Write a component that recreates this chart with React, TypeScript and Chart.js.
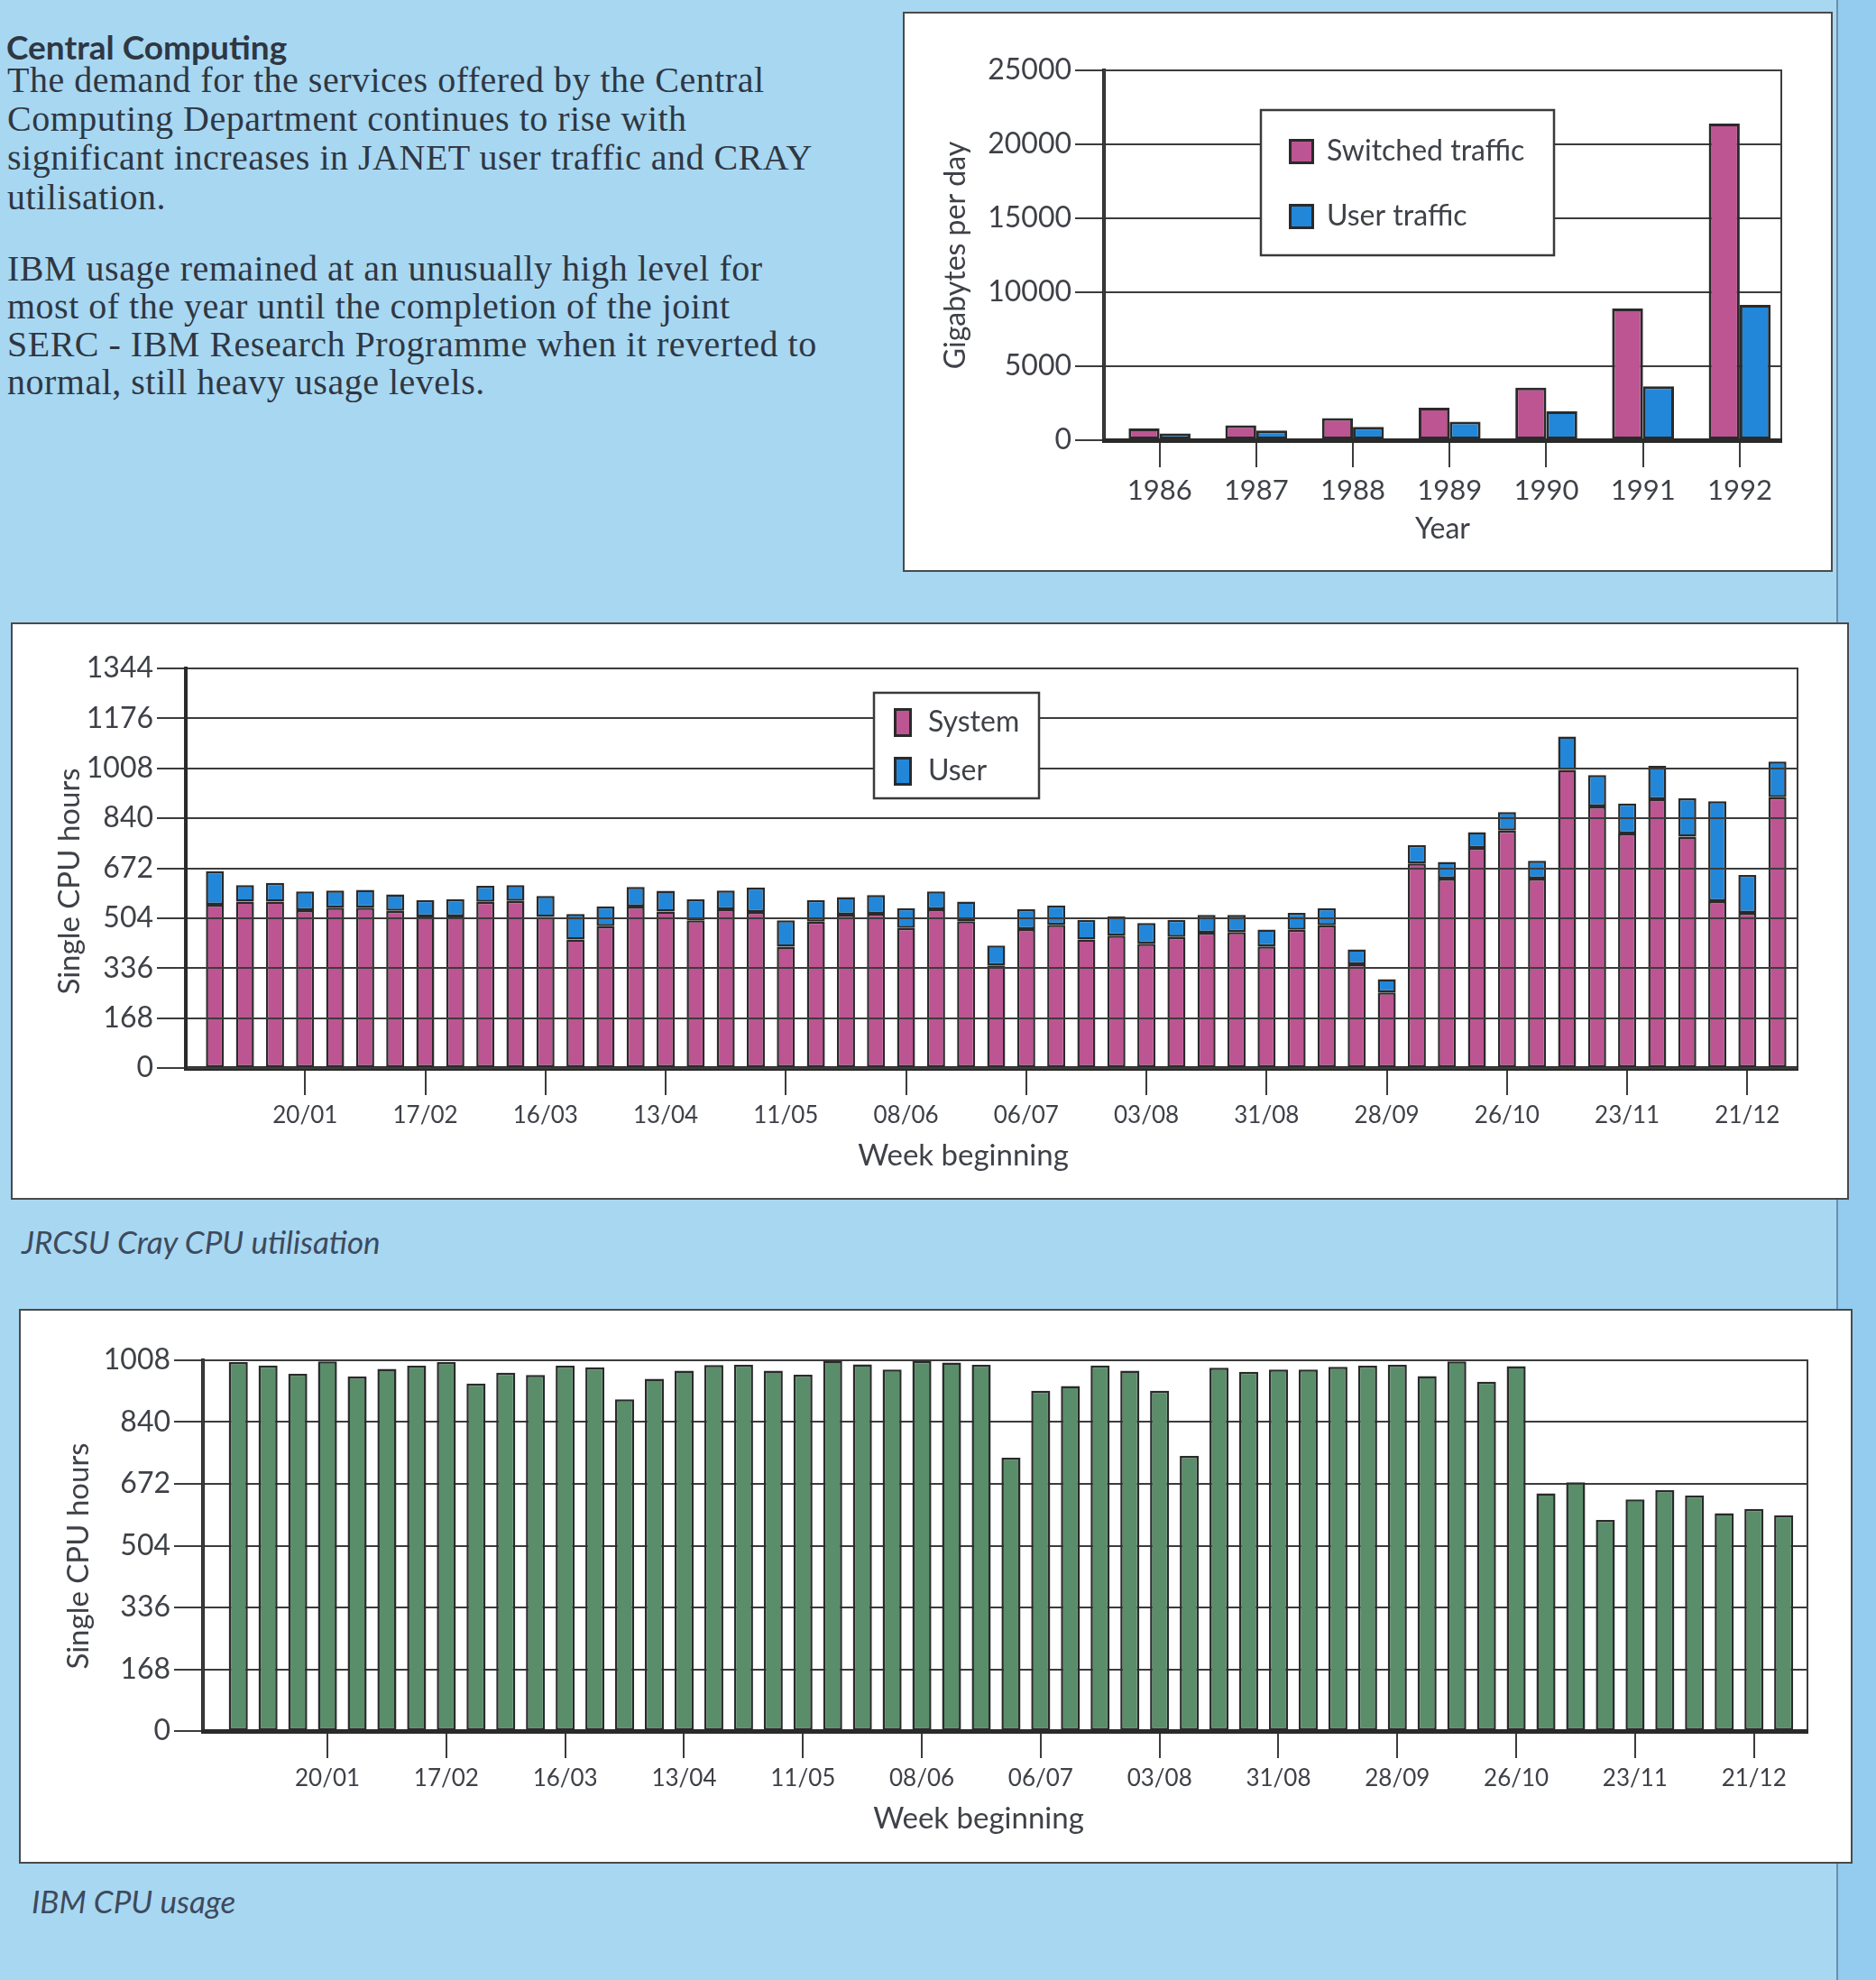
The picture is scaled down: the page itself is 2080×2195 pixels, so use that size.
import React, { useEffect, useRef } from 'react';
import { Chart, registerables } from 'chart.js';

Chart.register(...registerables);

// ---------- data ----------
const years = ['1986', '1987', '1988', '1989', '1990', '1991', '1992'];
const switchedTraffic = [800, 1000, 1500, 2200, 3550, 8900, 21400];
const userTraffic = [450, 650, 900, 1250, 1950, 3650, 9150];
const janetTicks = [0, 5000, 10000, 15000, 20000, 25000];

const weeks = [
  '30/12', '06/01', '13/01', '20/01', '27/01', '03/02', '10/02', '17/02', '24/02',
  '02/03', '09/03', '16/03', '23/03', '30/03', '06/04', '13/04', '20/04', '27/04',
  '04/05', '11/05', '18/05', '25/05', '01/06', '08/06', '15/06', '22/06', '29/06',
  '06/07', '13/07', '20/07', '27/07', '03/08', '10/08', '17/08', '24/08', '31/08',
  '07/09', '14/09', '21/09', '28/09', '05/10', '12/10', '19/10', '26/10', '02/11',
  '09/11', '16/11', '23/11', '30/11', '07/12', '14/12', '21/12', '28/12',
];
const weekTickLabels = ['20/01', '17/02', '16/03', '13/04', '11/05', '08/06', '06/07', '03/08', '31/08', '28/09', '26/10', '23/11', '21/12'];

const craySystem = [
  549, 560, 560, 531, 539, 539, 529, 510, 510, 559,
  562, 508, 432, 477, 543, 526, 497, 534, 525, 408,
  492, 516, 519, 471, 534, 494, 345, 467, 482, 432,
  445, 418, 441, 455, 457, 409, 465, 480, 349, 254,
  688, 637, 740, 799, 637, 1003, 880, 789, 904, 778,
  561, 522, 911,
];
const crayUser = [
  113, 55, 63, 63, 58, 60, 55, 55, 58, 54,
  53, 71, 86, 67, 66, 70, 70, 63, 82, 89,
  73, 59, 63, 67, 60, 66, 67, 67, 65, 66,
  65, 70, 57, 60, 58, 57, 57, 58, 50, 45,
  62, 56, 53, 62, 60, 112, 105, 101, 112, 129,
  336, 127, 120,
];
const crayTicks = [0, 168, 336, 504, 672, 840, 1008, 1176, 1344];

const ibmUsage = [
  1003, 994, 971, 1005, 964, 985, 993, 1003, 945, 974,
  968, 993, 989, 902, 958, 980, 995, 996, 980, 969,
  1007, 997, 983, 1006, 1002, 996, 743, 925, 938, 994,
  980, 925, 748, 988, 977, 983, 983, 990, 993, 996,
  965, 1005, 950, 992, 646, 676, 574, 630, 655, 641,
  592, 604, 587,
];
const ibmTicks = [0, 168, 336, 504, 672, 840, 1008];

// ---------- styles ----------
const MAGENTA = '#bc5592';
const BLUE = '#2287d9';
const GREEN = '#5a8d6a';
const DARK = '#2a2a2a';
const GRID = '#3c3c3c';
const TEXT = '#3e4147';
const FONT = 'Lato, "Open Sans", sans-serif';
const PAGE_BG = '#a8d7f2';

const framePlugin = {
  id: 'frame',
  beforeDatasetsDraw(chart: any) {
    const { ctx, chartArea: a } = chart;
    ctx.save();
    ctx.strokeStyle = GRID;
    ctx.lineWidth = 2;
    ctx.strokeRect(a.left, a.top, a.right - a.left, a.bottom - a.top);
    ctx.restore();
  },
};

const legendBoxPlugin = {
  id: 'legendBox',
  afterDraw(chart: any, _args: any, o: any) {
    const { ctx } = chart;
    ctx.save();
    ctx.fillStyle = '#ffffff';
    ctx.fillRect(o.x, o.y, o.w, o.h);
    ctx.lineWidth = 2.5;
    ctx.strokeStyle = '#3a3a3a';
    ctx.strokeRect(o.x, o.y, o.w, o.h);
    chart.data.datasets.forEach((ds: any, i: number) => {
      const cy = o.y + o.firstY + i * o.gap;
      ctx.fillStyle = DARK;
      ctx.fillRect(o.sx, cy - o.sh / 2, o.sw, o.sh);
      ctx.fillStyle = ds.backgroundColor;
      ctx.fillRect(o.sx + 3, cy - o.sh / 2 + 3, o.sw - 6, o.sh - 6);
      ctx.fillStyle = TEXT;
      ctx.font = `${o.fs}px ${FONT}`;
      ctx.textBaseline = 'middle';
      ctx.textAlign = 'left';
      ctx.fillText(ds.label, o.tx, cy);
    });
    ctx.restore();
  },
};

// axis titles placed where the original page put them (slightly off-centre)
const axisTitlePlugin = {
  id: 'axisTitles',
  afterDraw(chart: any, _args: any, o: any) {
    const { ctx } = chart;
    const xText = chart.options.scales.x.title.text;
    const yText = chart.options.scales.y.title.text;
    ctx.save();
    ctx.fillStyle = TEXT;
    ctx.font = `${o.size}px ${FONT}`;
    ctx.textAlign = 'center';
    ctx.textBaseline = 'middle';
    ctx.fillText(xText, o.xcx, o.xcy);
    ctx.translate(o.ycx, o.ycy);
    ctx.rotate(-Math.PI / 2);
    ctx.fillText(yText, 0, 0);
    ctx.restore();
  },
};

function yScale(tickValues: number[], title: string, width: number, titlePad: number, gridZ: number, titleSize: number, showTitle: boolean) {
  return {
    type: 'linear',
    min: 0,
    max: tickValues[tickValues.length - 1],
    afterBuildTicks: (s: any) => {
      s.ticks = tickValues.map((v) => ({ value: v }));
    },
    afterFit: (s: any) => {
      s.width = width;
    },
    ticks: {
      color: TEXT,
      font: { family: FONT, size: 32 },
      padding: 4,
      callback: (v: any) => String(v),
    },
    grid: { color: GRID, lineWidth: 2, tickLength: 32, z: gridZ },
    border: { display: true, color: DARK, width: 4, z: gridZ + 1 },
    title: {
      display: showTitle,
      text: title,
      color: TEXT,
      font: { family: FONT, size: titleSize },
      padding: { top: titlePad, bottom: 0 },
    },
  };
}

function xScale(
  labels: string[],
  shown: string[],
  min: number,
  max: number,
  title: string,
  height: number,
  titlePadBottom: number,
  fontSize: number,
  titleSize: number,
  stacked: boolean,
  showTitle: boolean,
) {
  const tickIdx = shown.map((l) => labels.indexOf(l));
  return {
    type: 'linear',
    min,
    max,
    offset: false,
    stacked,
    afterBuildTicks: (s: any) => {
      s.ticks = tickIdx.map((v) => ({ value: v }));
    },
    afterFit: (s: any) => {
      s.height = height;
    },
    ticks: {
      autoSkip: false,
      maxRotation: 0,
      minRotation: 0,
      color: TEXT,
      font: { family: FONT, size: fontSize },
      padding: 7,
      callback: (v: any) => labels[v] ?? '',
    },
    grid: {
      drawOnChartArea: false,
      offset: false,
      tickLength: 30,
      lineWidth: 2,
      color: GRID,
    },
    border: { display: true, color: DARK, width: 5, z: 1 },
    title: {
      display: showTitle,
      text: title,
      color: TEXT,
      font: { family: FONT, size: titleSize },
      padding: { top: 0, bottom: titlePadBottom },
    },
  };
}

const toPoints = (arr: number[]) => arr.map((y, x) => ({ x, y }));

function janetConfig(): any {
  return {
    type: 'bar',
    data: {
      datasets: [
        { label: 'Switched traffic', data: toPoints(switchedTraffic), backgroundColor: MAGENTA },
        { label: 'User traffic', data: toPoints(userTraffic), backgroundColor: BLUE },
      ],
    },
    options: {
      responsive: false,
      animation: false,
      events: [],
      layout: { padding: { top: 63, right: 55, left: 0, bottom: 0 } },
      datasets: {
        bar: { borderColor: DARK, borderWidth: 3, borderSkipped: false, categoryPercentage: 0.64, barPercentage: 1 },
      },
      scales: {
        x: xScale(years, years, -0.575, 6.43, 'Year', 144, 26, 31, 32, false, true),
        y: yScale(janetTicks, 'Gigabytes per day', 221, 37, -1, 32, true),
      },
      plugins: {
        legend: { display: false },
        tooltip: { enabled: false },
        legendBox: { x: 395, y: 107, w: 325, h: 161, firstY: 46, gap: 72, sx: 426, sw: 28, sh: 28, tx: 468, fs: 32 },
      },
    },
    plugins: [framePlugin, legendBoxPlugin],
  };
}

function crayConfig(): any {
  return {
    type: 'bar',
    data: {
      datasets: [
        { label: 'System', data: toPoints(craySystem), backgroundColor: MAGENTA },
        { label: 'User', data: toPoints(crayUser), backgroundColor: BLUE },
      ],
    },
    options: {
      responsive: false,
      animation: false,
      events: [],
      layout: { padding: { top: 49, right: 55, left: 0, bottom: 0 } },
      datasets: {
        bar: { borderColor: DARK, borderWidth: 2.5, borderSkipped: false, categoryPercentage: 1, barPercentage: 0.6 },
      },
      scales: {
        x: xScale(weeks, weekTickLabels, -0.97, 52.67, 'Week beginning', 144, 29, 26, 33, true, false),
        y: { ...yScale(crayTicks, 'Single CPU hours', 192, 45, 1, 33, false), stacked: true },
      },
      plugins: {
        legend: { display: false },
        tooltip: { enabled: false },
        legendBox: { x: 955, y: 76, w: 183, h: 117, firstY: 33, gap: 54, sx: 977, sw: 20, sh: 32, tx: 1015, fs: 32 },
        axisTitles: { size: 33, xcx: 1054, xcy: 589, ycx: 63, ycy: 285 },
      },
    },
    plugins: [framePlugin, legendBoxPlugin, axisTitlePlugin],
  };
}

function ibmConfig(): any {
  return {
    type: 'bar',
    data: {
      datasets: [{ label: 'IBM CPU usage', data: toPoints(ibmUsage), backgroundColor: GREEN }],
    },
    options: {
      responsive: false,
      animation: false,
      events: [],
      layout: { padding: { top: 55, right: 48, left: 0, bottom: 0 } },
      datasets: {
        bar: { borderColor: DARK, borderWidth: 2.5, borderSkipped: false, categoryPercentage: 1, barPercentage: 0.64 },
      },
      scales: {
        x: xScale(weeks, weekTickLabels, -1.19, 52.8, 'Week beginning', 145, 30, 26, 33, false, false),
        y: yScale(ibmTicks, 'Single CPU hours', 202, 47, -1, 33, false),
      },
      plugins: {
        legend: { display: false },
        tooltip: { enabled: false },
        axisTitles: { size: 33, xcx: 1062, xcy: 563, ycx: 64, ycy: 272 },
      },
    },
    plugins: [framePlugin, axisTitlePlugin],
  };
}

// ---------- page ----------
const SERIF = '"Liberation Serif", "Times New Roman", serif';
const BODY_SIZE = 40;
const para1 = [
  'The demand for the services offered by the Central',
  'Computing Department continues to rise with',
  'significant increases in JANET user traffic and CRAY',
  'utilisation.',
];
const para1Baselines = [102, 145, 188, 232];
const para2 = [
  'IBM usage remained at an unusually high level for',
  'most of the year until the completion of the joint',
  'SERC - IBM Research Programme when it reverted to',
  'normal, still heavy usage levels.',
];
const para2Baselines = [311, 353, 395, 437];

function Line({ text, baseline }: { text: string; baseline: number }) {
  return (
    <div
      style={{
        position: 'absolute',
        left: 8,
        top: baseline - BODY_SIZE * 0.8375,
        fontFamily: SERIF,
        fontSize: BODY_SIZE,
        lineHeight: `${BODY_SIZE}px`,
        letterSpacing: 0.5,
        color: '#2f3742',
        whiteSpace: 'nowrap',
      }}
    >
      {text}
    </div>
  );
}

function Panel({ left, top, width, height, canvasRef }: any) {
  return (
    <div
      style={{
        position: 'absolute',
        left,
        top,
        width,
        height,
        background: '#ffffff',
        boxShadow: '0 0 0 2px #4a4a4a',
      }}
    >
      <canvas ref={canvasRef} width={width} height={height} style={{ display: 'block' }} />
    </div>
  );
}

const captionStyle: any = {
  position: 'absolute',
  fontFamily: 'Lato, sans-serif',
  fontStyle: 'italic',
  fontSize: 35,
  lineHeight: '35px',
  color: '#3d4a5c',
  whiteSpace: 'nowrap',
};

export default function App() {
  const topRef = useRef<HTMLCanvasElement>(null);
  const midRef = useRef<HTMLCanvasElement>(null);
  const botRef = useRef<HTMLCanvasElement>(null);

  useEffect(() => {
    const charts = [
      new Chart(topRef.current as HTMLCanvasElement, janetConfig()),
      new Chart(midRef.current as HTMLCanvasElement, crayConfig()),
      new Chart(botRef.current as HTMLCanvasElement, ibmConfig()),
    ];
    return () => charts.forEach((c) => c.destroy());
  }, []);

  return (
    <div
      style={{
        position: 'absolute',
        left: 0,
        top: 0,
        width: 2080,
        height: 2195,
        overflow: 'hidden',
        background: PAGE_BG,
      }}
    >
      <div style={{ position: 'absolute', left: 2036, top: 0, width: 44, height: 2195, background: '#93ccef', borderLeft: '2px solid #6d8fa8' }} />
      <div
        style={{
          position: 'absolute',
          left: 7,
          top: 70 - 37 * 0.987,
          fontFamily: 'Lato, sans-serif',
          fontWeight: 700,
          fontSize: 37,
          lineHeight: '37px',
          color: '#2f3742',
          whiteSpace: 'nowrap',
        }}
      >
        Central Computing
      </div>
      {para1.map((t, i) => (
        <Line key={'a' + i} text={t} baseline={para1Baselines[i]} />
      ))}
      {para2.map((t, i) => (
        <Line key={'b' + i} text={t} baseline={para2Baselines[i]} />
      ))}

      <Panel left={1003} top={15} width={1027} height={617} canvasRef={topRef} />
      <Panel left={14} top={692} width={2034} height={636} canvasRef={midRef} />
      <Panel left={23} top={1453} width={2029} height={611} canvasRef={botRef} />

      <div style={{ ...captionStyle, left: 24, top: 1394 - 35 * 0.987 }}>JRCSU Cray CPU utilisation</div>
      <div style={{ ...captionStyle, left: 35, top: 2125 - 35 * 0.987 }}>IBM CPU usage</div>
    </div>
  );
}
